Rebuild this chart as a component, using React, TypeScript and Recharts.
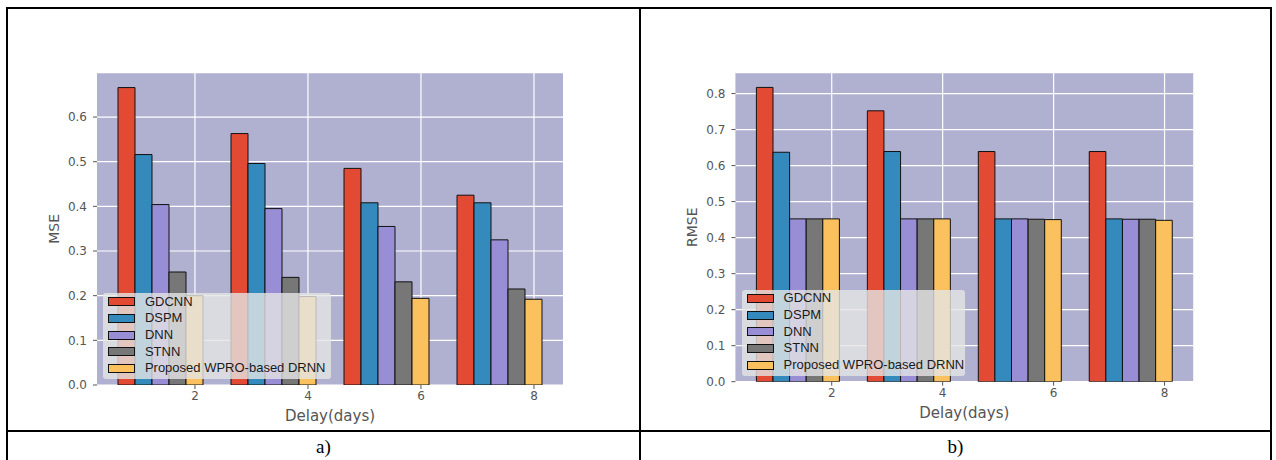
import { BarChart, Bar, XAxis, YAxis, CartesianGrid, Legend } from 'recharts';

// delay categories (x axis)
const delays = ['2', '4', '6', '8'];

const seriesNames = ['GDCNN', 'DSPM', 'DNN', 'STNN', 'Proposed WPRO-based DRNN'];
const seriesColors = ['#E24A33', '#348ABD', '#988ED5', '#777777', '#FBC15E'];

// a) MSE
const mseGdcnn = [0.666, 0.563, 0.485, 0.425];
const mseDspm = [0.516, 0.496, 0.408, 0.408];
const mseDnn = [0.404, 0.395, 0.355, 0.325];
const mseStnn = [0.253, 0.241, 0.231, 0.215];
const mseProposed = [0.2, 0.198, 0.194, 0.192];
const mseTicks = [0, 0.1, 0.2, 0.3, 0.4, 0.5, 0.6];

// b) RMSE
const rmseGdcnn = [0.817, 0.752, 0.639, 0.639];
const rmseDspm = [0.637, 0.639, 0.452, 0.452];
const rmseDnn = [0.452, 0.452, 0.452, 0.451];
const rmseStnn = [0.452, 0.452, 0.451, 0.451];
const rmseProposed = [0.452, 0.452, 0.45, 0.448];
const rmseTicks = [0, 0.1, 0.2, 0.3, 0.4, 0.5, 0.6, 0.7, 0.8];

// matplotlib put the delay tick near the right end of each bar group
const TICK_SHIFT = 0.305; // share of the band width
const X_PAD = 7;

const toRows = (series: number[][]) =>
  delays.map((d, i) => {
    const row: Record<string, any> = { delay: d };
    series.forEach((s, k) => (row[seriesNames[k]] = s[i]));
    return row;
  });

const mseData = toRows([mseGdcnn, mseDspm, mseDnn, mseStnn, mseProposed]);
const rmseData = toRows([rmseGdcnn, rmseDspm, rmseDnn, rmseStnn, rmseProposed]);

const GRAY = '#555555';
const tickStyle = { fontSize: 12, fill: GRAY, fontFamily: 'DejaVu Sans' };

function YTitle({ viewBox, text }: any) {
  const x = viewBox.x + 17;
  const y = viewBox.y + viewBox.height / 2;
  return (
    <text x={x} y={y} transform={`rotate(-90 ${x} ${y})`} textAnchor="middle" dominantBaseline="central"
      fontSize={14} fill={GRAY} fontFamily="DejaVu Sans">{text}</text>
  );
}

function XTitle({ viewBox, text }: any) {
  const x = viewBox.x + viewBox.width / 2;
  const y = viewBox.y + 31;
  return (
    <text x={x} y={y} textAnchor="middle" dominantBaseline="central" fontSize={15} fill={GRAY} fontFamily="DejaVu Sans">
      {text}
    </text>
  );
}

function DelayTick({ x, y, payload }: any) {
  const cx = x + (payload.offset || 0) * 2 * TICK_SHIFT;
  return (
    <g>
      <line x1={cx} x2={cx} y1={y - 6} y2={y - 2} stroke={GRAY} />
      <text x={cx} y={y} dy="0.75em" textAnchor="middle" {...tickStyle}>{payload.value}</text>
    </g>
  );
}

// vertical grid lines follow the shifted delay ticks
const gridX = ({ offset }: any) => {
  const left = offset?.left ?? 0;
  const w = offset?.width ?? 0;
  const bw = (w - 2 * X_PAD) / delays.length;
  return delays.map((_, i) => left + X_PAD + bw * (i + 0.5 + TICK_SHIFT));
};

function LegendBox({ payload }: any) {
  const items = [...(payload || [])].sort(
    (a: any, b: any) => seriesNames.indexOf(a.value) - seriesNames.indexOf(b.value)
  );
  return (
    <div style={{ fontFamily: 'Liberation Sans', fontSize: 13, color: '#1a1a1a' }}>
      {items.map((it: any) => (
        <div key={it.value} style={{ height: 16.7, display: 'flex', alignItems: 'center' }}>
          <span style={{ marginLeft: 5, marginRight: 10, width: 27, height: 9, boxSizing: 'border-box',
            border: '1px solid #111', background: it.color, display: 'inline-block' }} />
          <span style={{ lineHeight: '14px' }}>{it.value}</span>
        </div>
      ))}
    </div>
  );
}

type PanelProps = {
  data: any[];
  yLabel: string;
  yTicks: number[];
  left: number;
  width: number;
  margin: { top: number; right: number; bottom: number; left: number };
  barSize: number;
  legendPos: { left: number; top: number; width: number; height: number };
};

function Panel({ data, yLabel, yTicks, left, width, margin, barSize, legendPos }: PanelProps) {
  return (
    <div style={{ position: 'absolute', left, top: 9 }}>
      <BarChart width={width} height={421} data={data} margin={margin} barGap={0} barSize={barSize}>
        <CartesianGrid fill="#B0B1D0" fillOpacity={1} stroke="#ffffff" strokeWidth={1.2}
          verticalCoordinatesGenerator={gridX} />
        <XAxis dataKey="delay" type="category" padding={{ left: X_PAD, right: X_PAD }} height={45}
          axisLine={false} tickSize={4} tickMargin={2} tickLine={false} tick={<DelayTick />}
          label={<XTitle text="Delay(days)" />} />
        <YAxis width={60} domain={[0, (max: number) => max * 1.05]} ticks={yTicks} allowDataOverflow
          axisLine={false} tickSize={4} tickMargin={6} tickLine={{ stroke: GRAY }} tick={tickStyle}
          tickFormatter={(v) => Number(v).toFixed(1)} label={<YTitle text={yLabel} />} />
        {seriesNames.map((n, i) => (
          <Bar key={n} dataKey={n} name={n} fill={seriesColors[i]} stroke="#111"
            strokeWidth={1} isAnimationActive={false} />
        ))}
        <Legend layout="vertical" align="center" verticalAlign="middle" content={<LegendBox />}
          wrapperStyle={{ ...legendPos, background: 'rgba(229,229,229,0.8)', borderRadius: 3 }} />
      </BarChart>
    </div>
  );
}

const line = (s: any) => <div style={{ position: 'absolute', background: '#000', ...s }} />;

export default function App() {
  return (
    <div style={{ position: 'absolute', left: 0, top: 0, width: 1276, height: 460, overflow: 'hidden', background: '#fff' }}>
      <Panel data={mseData} yLabel="MSE" yTicks={mseTicks} left={8} width={631}
        margin={{ top: 63.7, right: 76, bottom: 0, left: 29 }} barSize={17}
        legendPos={{ left: 94.9, top: 284.3, width: 227.7, height: 86 }} />
      <Panel data={rmseData} yLabel="RMSE" yTicks={rmseTicks} left={641} width={629}
        margin={{ top: 63.7, right: 76.8, bottom: 3.3, left: 34.4 }} barSize={16.6}
        legendPos={{ left: 100.6, top: 281, width: 223.5, height: 85.7 }} />
      {line({ left: 6, top: 7, width: 1266, height: 2 })}
      {line({ left: 6, top: 7, width: 2, height: 470 })}
      {line({ left: 639, top: 7, width: 2, height: 470 })}
      {line({ left: 1270, top: 7, width: 2, height: 470 })}
      {line({ left: 6, top: 430, width: 1266, height: 2 })}
      <div style={{ position: 'absolute', left: 8, top: 432, width: 631, height: 30, lineHeight: '30px',
        textAlign: 'center', fontFamily: 'Liberation Serif', fontSize: 19 }}>a)</div>
      <div style={{ position: 'absolute', left: 641, top: 432, width: 629, height: 30, lineHeight: '30px',
        textAlign: 'center', fontFamily: 'Liberation Serif', fontSize: 19 }}>b)</div>
    </div>
  );
}
